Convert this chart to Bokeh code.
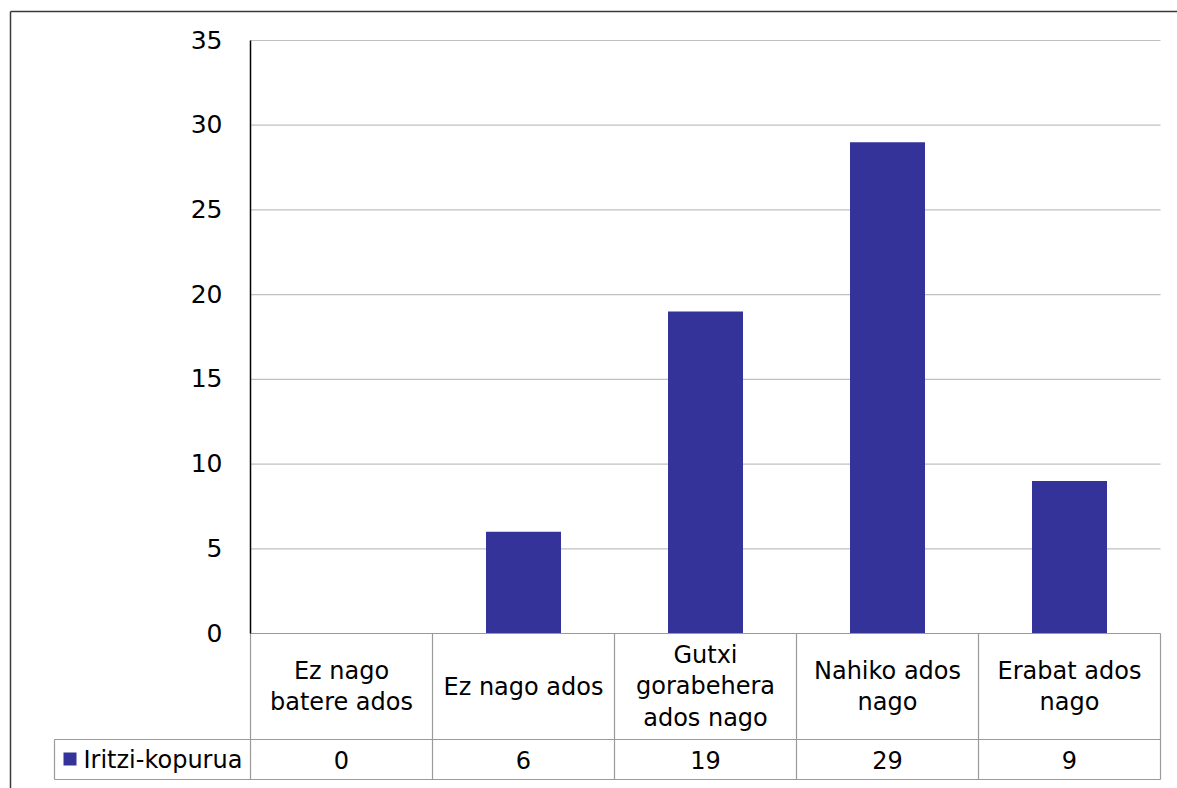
from bokeh.plotting import figure
from bokeh.models import Range1d, ColumnDataSource
from bokeh.core.properties import value
from bokeh.embed import file_html
from bokeh.resources import INLINE

# ---- data ----
categories = ["Ez nago\nbatere ados", "Ez nago ados", "Gutxi\ngorabehera\nados nago",
              "Nahiko ados\nnago", "Erabat ados\nnago"]
counts = [0, 6, 19, 29, 9]
series_name = "Iritzi-kopurua"
y_ticks = [0, 5, 10, 15, 20, 25, 30, 35]

# ---- layout (figure pixels) ----
W, H = 1177, 788
PLOT_L, PLOT_R = 250, 1160
PLOT_T, PLOT_B = 40, 633
ROW_DIV, TABLE_B = 739, 779
LEGEND_L = 54
Y_MAX = 35
ncat = len(categories)
cell_px = (PLOT_R - PLOT_L) / ncat
unit_px = (PLOT_B - PLOT_T) / Y_MAX

def px2x(px):
    return (px - PLOT_L) / cell_px

def px2y(py):
    return (PLOT_B - py) / unit_px

FONT = value("DejaVu Sans")
FS = "24px"
GRID_C = "#c0c0c0"
TABLE_C = "#9a9a9a"
BAR_C = "#333399"

p = figure(width=W, height=H, output_backend="svg", toolbar_location=None,
           x_range=Range1d(px2x(0), px2x(W)), y_range=Range1d(px2y(H), px2y(0)),
           x_axis_location=None, y_axis_location=None, min_border=0,
           outline_line_color=None, tools="")
p.grid.visible = False
p.background_fill_color = "white"
p.border_fill_color = "white"

xs = [i + 0.5 for i in range(ncat)]
y_row = px2y(ROW_DIV)
y_bot = px2y(TABLE_B)
x_leg = px2x(LEGEND_L)

# outer chart frame (top + left edges; the rest lies outside the picture)
p.segment(x0=[px2x(10), px2x(10)], y0=[px2y(11), px2y(11)],
          x1=[px2x(W + 20), px2x(10)], y1=[px2y(11), px2y(H + 20)],
          line_color="#3a3a3a", line_width=1.5)

# gridlines
gt = [t for t in y_ticks if t > 0]
p.segment(x0=[0] * len(gt), y0=gt, x1=[ncat] * len(gt), y1=gt,
          line_color=GRID_C, line_width=1.2)

# bars
src = ColumnDataSource(dict(x=xs, top=counts, cat=categories))
p.vbar(x="x", top="top", bottom=0, width=75 / cell_px, source=src,
       fill_color=BAR_C, line_color=None)

# table lines
hx0 = [0, x_leg, x_leg]
hx1 = [ncat, ncat, ncat]
hy = [0, y_row, y_bot]
p.segment(x0=hx0, y0=hy, x1=hx1, y1=hy, line_color=TABLE_C, line_width=1.2)
vx = list(range(ncat + 1))
p.segment(x0=vx, y0=[0] * len(vx), x1=vx, y1=[y_bot] * len(vx),
          line_color=TABLE_C, line_width=1.2)
p.segment(x0=[x_leg], y0=[y_row], x1=[x_leg], y1=[y_bot],
          line_color=TABLE_C, line_width=1.2)

# y axis line
p.segment(x0=[0], y0=[0], x1=[0], y1=[Y_MAX], line_color="black", line_width=1.5)

# y tick labels
p.text(x=[px2x(222)] * len(y_ticks), y=y_ticks, text=[str(t) for t in y_ticks],
       text_font=FONT, text_font_size="25px", text_align="right",
       text_baseline="middle", text_color="black", y_offset=-1)

# category labels
p.text(x=xs, y=[(0 + y_row) / 2] * ncat, text=categories, text_font=FONT,
       text_font_size=FS, text_align="center", text_baseline="middle",
       text_line_height=1.14, text_color="black")

# value row
p.text(x=xs, y=[(y_row + y_bot) / 2] * ncat, text=[str(c) for c in counts],
       text_font=FONT, text_font_size=FS, text_align="center",
       text_baseline="middle", text_color="black")

# legend key in table
p.scatter(x=[px2x(69.5)], y=[px2y(758.5)], marker="square", size=13,
          fill_color=BAR_C, line_color=None)
p.text(x=[px2x(83)], y=[(y_row + y_bot) / 2], text=[series_name], text_font=FONT,
       text_font_size=FS, text_align="left", text_baseline="middle",
       text_color="black")

open("out.html", "w").write(file_html(p, INLINE))
